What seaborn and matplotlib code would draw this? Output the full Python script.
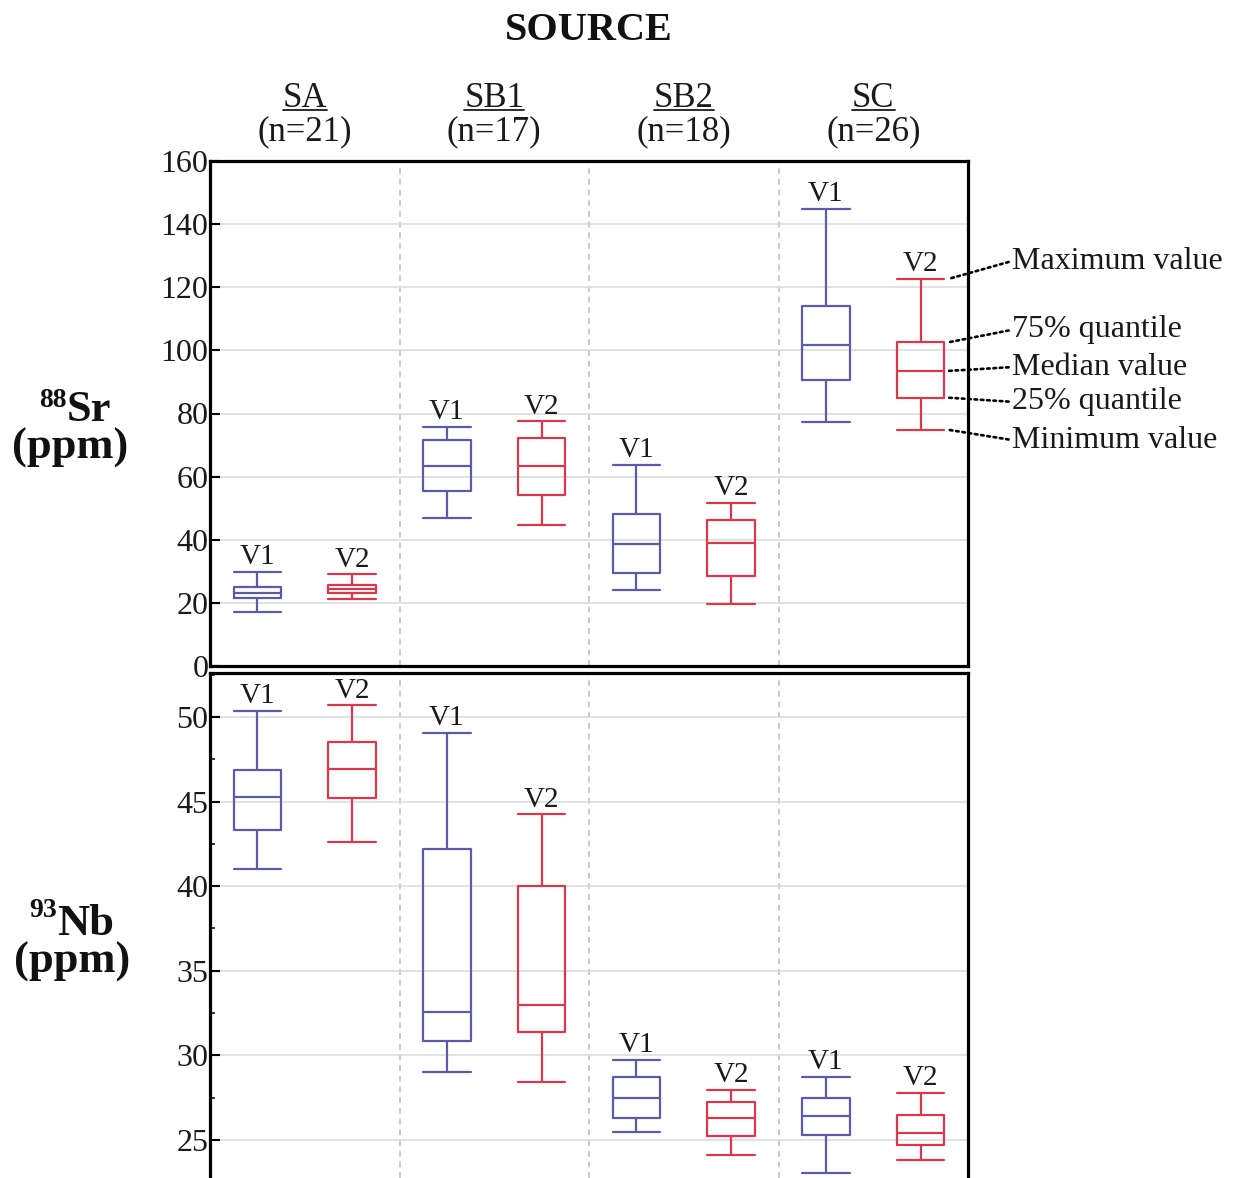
import numpy as np
import pandas as pd
import matplotlib
matplotlib.use("Agg")
import matplotlib.pyplot as plt
import matplotlib.transforms as mtransforms
from matplotlib.lines import Line2D
from matplotlib.ticker import MultipleLocator
import seaborn as sns

# ---------------- data ----------------
sources = ["SA", "SB1", "SB2", "SC"]
n_counts = [21, 17, 18, 26]
varieties = ["V1", "V2"]

# five-number summaries per source: [min, q1, median, q3, max]
sr_v1 = [[17.1, 21.4, 23.1, 24.9, 29.9],
         [46.9, 55.3, 63.4, 71.5, 75.8],
         [24.2, 29.4, 38.6, 48.2, 63.8],
         [77.4, 90.7, 101.8, 114.2, 144.9]]
sr_v2 = [[21.3, 23.2, 24.4, 25.7, 29.1],
         [44.7, 54.2, 63.4, 72.3, 77.5],
         [19.8, 28.6, 38.9, 46.1, 51.7],
         [74.8, 85.0, 93.5, 102.6, 122.7]]
nb_v1 = [[41.0, 43.34, 45.27, 46.84, 50.36],
         [29.01, 30.83, 32.55, 42.17, 49.07],
         [25.49, 26.30, 27.47, 28.74, 29.73],
         [23.04, 25.27, 26.42, 27.47, 28.74]]
nb_v2 = [[42.64, 45.2, 46.94, 48.52, 50.69],
         [28.44, 31.36, 32.99, 40.0, 44.25],
         [24.09, 25.24, 26.28, 27.23, 27.98],
         [23.81, 24.72, 25.4, 26.5, 27.8]]

sr_ticks = [0, 20, 40, 60, 80, 100, 120, 140, 160]
nb_ticks = [25, 30, 35, 40, 45, 50]
key_labels = ["Maximum value", "75% quantile", "Median value",
              "25% quantile", "Minimum value"]
key_label_y = [128.3, 106.5, 94.7, 83.7, 71.6]   # label heights in Sr units


def long_frame(v1, v2):
    rows = []
    for i, s in enumerate(sources):
        for var, arr in (("V1", v1), ("V2", v2)):
            for v in arr[i]:
                rows.append({"source": s, "variety": var, "value": v})
    return pd.DataFrame(rows)


df_sr = long_frame(sr_v1, sr_v2)
df_nb = long_frame(nb_v1, nb_v2)

# ---------------- style ----------------
sns.set_style("white")
serif = ["Liberation Serif", "DejaVu Serif"]
plt.rcParams["font.family"] = serif
plt.rcParams["axes.edgecolor"] = "black"

BLUE = "#5b5ca8"
RED = "#d7394c"
TXT = "#1a1a1a"
palette = {"V1": BLUE, "V2": RED}

W, H = 1236, 1178
fig = plt.figure(figsize=(W / 100, H / 100), dpi=100)
ax_top = fig.add_axes([210 / W, 1 - 666 / H, 758 / W, 505 / H])
ax_bot = fig.add_axes([210 / W, 0.0, 758 / W, 1 - 673 / H])

BOX_W = 0.25
offsets = {"V1": -0.25, "V2": 0.25}


def draw(ax, df, v1, v2, ylim, ticks):
    sns.boxplot(data=df, x="source", y="value", hue="variety",
                order=sources, hue_order=varieties, palette=palette,
                saturation=1, fill=False, whis=(0, 100), width=1.0,
                gap=0.5, linewidth=1.6, legend=False, ax=ax,
                capwidths=BOX_W)
    ax.set_xlim(-0.5, 3.5)
    ax.set_ylim(*ylim)
    ax.set_xticks([])
    ax.set_yticks(ticks)
    ax.set_xlabel("")
    ax.set_ylabel("")
    ax.yaxis.grid(True, color="#dadada", lw=1.1)
    ax.xaxis.grid(False)
    ax.set_axisbelow(True)
    for xs in (0.5, 1.5, 2.5):
        ax.axvline(xs, color="#c9c9c9", lw=1.4, ls=(0, (3, 2.5)), zorder=0)
    ax.tick_params(axis="y", direction="in", length=7, width=1.5,
                   labelsize=23, pad=1, left=True, colors="black",
                   labelcolor=TXT)
    for sp in ax.spines.values():
        sp.set_linewidth(2.3)
        sp.set_color("black")
    # V1 / V2 labels above the maxima
    for i in range(len(sources)):
        for var, arr in (("V1", v1), ("V2", v2)):
            ax.annotate(var, xy=(i + offsets[var], arr[i][4]),
                        xytext=(0, 5.5), textcoords="offset points",
                        ha="center", va="baseline", fontsize=21, color=TXT,
                        zorder=6)


draw(ax_top, df_sr, sr_v1, sr_v2, (0, 160), sr_ticks)
draw(ax_bot, df_nb, nb_v1, nb_v2, (22.75, 52.6), nb_ticks)
ax_bot.spines["bottom"].set_visible(False)
ax_bot.yaxis.set_minor_locator(MultipleLocator(2.5))
ax_bot.tick_params(axis="y", which="minor", direction="in", length=3.5,
                   width=1.3, left=True)

# ---------------- key annotations on SC / V2 ----------------
sc_v2 = sr_v2[3]
stat_order = [4, 3, 2, 1, 0]
txt_trans = mtransforms.blended_transform_factory(ax_top.transAxes,
                                                  ax_top.transData)
for lab, ly, k in zip(key_labels, key_label_y, stat_order):
    ax_top.annotate(lab, xy=(3 + 0.25 + BOX_W / 2 + 0.025, sc_v2[k]),
                    xytext=(1.058, ly), textcoords=txt_trans,
                    ha="left", va="center", fontsize=23, color=TXT,
                    annotation_clip=False,
                    arrowprops=dict(arrowstyle="-", color="black",
                                    lw=1.9, ls=(0, (1, 1.4)),
                                    relpos=(0, 0.5), shrinkA=0, shrinkB=0))

# ---------------- headers ----------------
hdr_trans = mtransforms.blended_transform_factory(ax_top.transData,
                                                  fig.transFigure)
fig.text(1.5, 1 - 40 / H, "SOURCE", transform=hdr_trans, ha="center",
         va="baseline", fontsize=29, fontweight="bold", color="#111111")
name_texts = []
for i, (s, n) in enumerate(zip(sources, n_counts)):
    t = fig.text(i, 1 - 107 / H, s, transform=hdr_trans, ha="center",
                 va="baseline", fontsize=25, color=TXT)
    name_texts.append(t)
    fig.text(i, 1 - 140 / H, f"(n={n})", transform=hdr_trans, ha="center",
             va="baseline", fontsize=25, color=TXT)

# y-axis titles
fig.text(67 / W, 1 - 407 / H, "88", ha="right", va="baseline",
         fontsize=20, fontweight="bold", color="#111111")
fig.text(67 / W, 1 - 421 / H, "Sr", ha="left", va="baseline",
         fontsize=32, fontweight="bold", color="#111111")
fig.text(70 / W, 1 - 459 / H, "(ppm)", ha="center", va="baseline",
         fontsize=32, fontweight="bold", color="#111111")
fig.text(57 / W, 1 - 917 / H, "93", ha="right", va="baseline",
         fontsize=20, fontweight="bold", color="#111111")
fig.text(57 / W, 1 - 935 / H, "Nb", ha="left", va="baseline",
         fontsize=32, fontweight="bold", color="#111111")
fig.text(72 / W, 1 - 973 / H, "(ppm)", ha="center", va="baseline",
         fontsize=32, fontweight="bold", color="#111111")

# underline source names
fig.canvas.draw()
renderer = fig.canvas.get_renderer()
inv = fig.transFigure.inverted()
for t in name_texts:
    bb = t.get_window_extent(renderer).transformed(inv)
    y = 1 - 110 / H
    fig.add_artist(Line2D([bb.x0, bb.x1], [y, y], transform=fig.transFigure,
                          color=TXT, lw=1.3))

fig.savefig("out.png", dpi=100)
